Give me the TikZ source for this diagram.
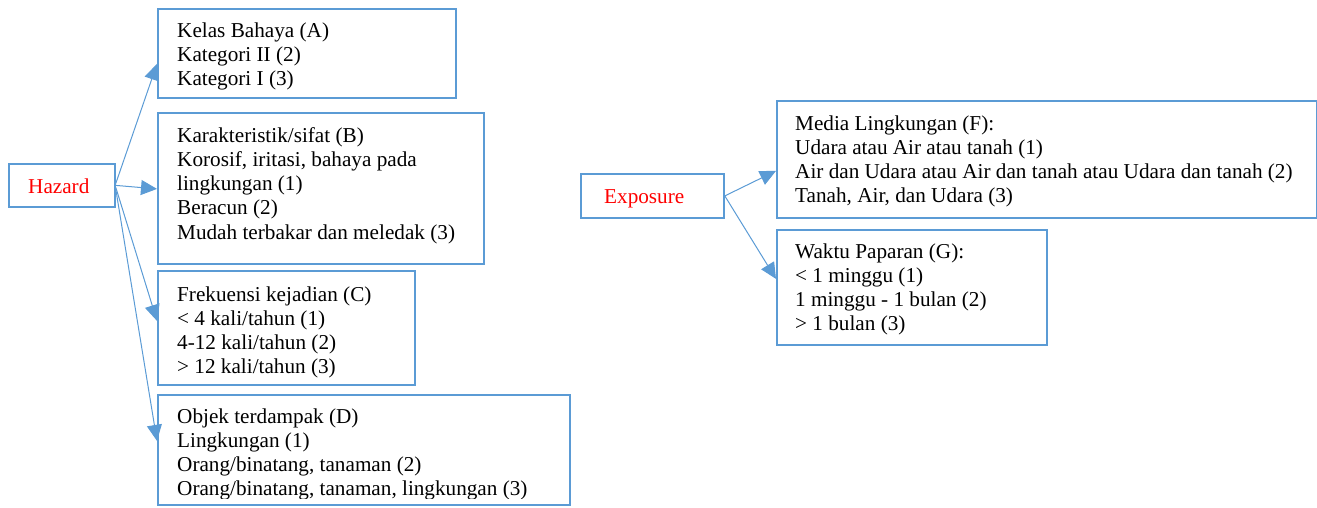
\documentclass[tikz,border=0pt]{standalone}
\usepackage{fontspec}
\setmainfont{Liberation Serif}
\usetikzlibrary{arrows.meta}
\definecolor{lineblue}{HTML}{5B9BD5}
\begin{document}
\begin{tikzpicture}[x=1pt,y=-1pt,
  box/.style={draw=lineblue, line width=1.8pt, rectangle, inner sep=0pt, anchor=north west},
  txt/.style={anchor=base west, inner sep=0pt, font=\fontsize{21.2}{24.3}\selectfont},
  conn/.style={draw=lineblue, line width=1pt, -{Triangle[length=16pt,width=15pt]}}]
\useasboundingbox (0,0) rectangle (1317,507);
% Hazard
\node[box, minimum width=106pt, minimum height=43pt] (haz) at (8,163) {};
\node[txt, text=red] (hazt) at (28,193) {Hazard};
% Box A
\begin{scope}
\clip (157,8) rectangle (455,89);
\node[txt] (At) at (177,37) {\begin{tabular}[t]{@{}l@{}}Kelas Bahaya (A)\\Kategori II (2)\\Kategori I (3)\end{tabular}};
\end{scope}
\node[box, minimum width=298pt, minimum height=89pt] (A) at (157,8) {};
% Box B
\node[txt] (Bt) at (177,142) {\begin{tabular}[t]{@{}l@{}}Karakteristik/sifat (B)\\Korosif, iritasi, bahaya pada\\lingkungan (1)\\Beracun (2)\\Mudah terbakar dan meledak (3)\end{tabular}};
\node[box, minimum width=326pt, minimum height=151pt] (B) at (157,112) {};
% Box C
\node[txt] (Ct) at (177,301) {\begin{tabular}[t]{@{}l@{}}Frekuensi kejadian (C)\\< 4 kali/tahun (1)\\4-12 kali/tahun (2)\\> 12 kali/tahun (3)\end{tabular}};
\node[box, minimum width=257pt, minimum height=114pt] (C) at (157,270) {};
% Box D
\begin{scope}
\clip (157,394) rectangle (569,498.5);
\node[txt] (Dt) at (177,423) {\begin{tabular}[t]{@{}l@{}}Objek terdampak (D)\\Lingkungan (1)\\Orang/binatang, tanaman (2)\\Orang/binatang, tanaman, lingkungan (3)\end{tabular}};
\end{scope}
\node[box, minimum width=412pt, minimum height=110pt] (D) at (157,394) {};
% Exposure
\node[box, minimum width=143pt, minimum height=44pt] (exp) at (580,173) {};
\node[txt, text=red] (expt) at (604,203) {Exposure};
% Box F
\node[txt] (Ft) at (795,130) {\begin{tabular}[t]{@{}l@{}}Media Lingkungan (F):\\Udara atau Air atau tanah (1)\\Air dan Udara atau Air dan tanah atau Udara dan tanah (2)\\Tanah, Air, dan Udara (3)\end{tabular}};
\node[box, minimum width=540pt, minimum height=117pt] (F) at (776,100) {};
% Box G
\node[txt] (Gt) at (795,258) {\begin{tabular}[t]{@{}l@{}}Waktu Paparan (G):\\< 1 minggu (1)\\1 minggu - 1 bulan (2)\\> 1 bulan (3)\end{tabular}};
\node[box, minimum width=270pt, minimum height=115pt] (G) at (776,229) {};
% Connectors
\draw[conn] ([yshift=2pt]haz.east) -- ([yshift=-10.5pt]A.west);
\draw[conn] ([yshift=0pt]haz.east) -- ([yshift=-0.5pt]B.west);
\draw[conn] ([yshift=-2pt]haz.east) -- ([yshift=7pt]C.west);
\draw[conn] ([yshift=-4pt]haz.east) -- ([yshift=9pt]D.west);
\draw[conn] (exp.east) -- ([yshift=-11.5pt]F.west);
\draw[conn] (exp.east) -- ([yshift=8.5pt]G.west);
\end{tikzpicture}
\end{document}
